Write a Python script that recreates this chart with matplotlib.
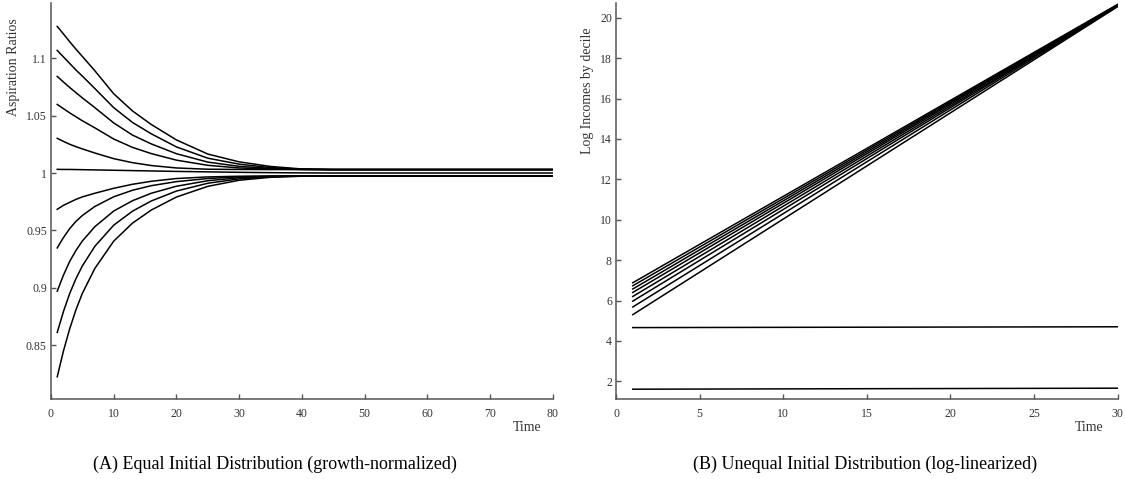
"""Aspiration ratios and log incomes by decile, two-panel figure."""
import matplotlib
matplotlib.use("Agg")
import matplotlib.pyplot as plt
from matplotlib.ticker import FuncFormatter

# panel A: aspiration ratios, sampled periods
t_a = [1, 2, 3, 4, 5, 7, 10, 13, 16, 20, 25, 30, 35, 40, 45, 50, 80]
asp_ratios = [
    [1.1276, 1.1210, 1.1142, 1.1077, 1.1015, 1.0890, 1.0690, 1.0540, 1.0422, 1.0288, 1.0165, 1.0097, 1.0057, 1.0035, 1.0030, 1.0030, 1.0030],
    [1.1067, 1.1010, 1.0953, 1.0896, 1.0844, 1.0735, 1.0569, 1.0440, 1.0341, 1.0227, 1.0129, 1.0077, 1.0047, 1.0033, 1.0030, 1.0030, 1.0030],
    [1.0841, 1.0792, 1.0744, 1.0699, 1.0654, 1.0569, 1.0436, 1.0330, 1.0253, 1.0168, 1.0095, 1.0058, 1.0040, 1.0032, 1.0030, 1.0030, 1.0030],
    [1.0597, 1.0560, 1.0523, 1.0489, 1.0455, 1.0393, 1.0296, 1.0223, 1.0169, 1.0112, 1.0067, 1.0044, 1.0035, 1.0031, 1.0030, 1.0030, 1.0030],
    [1.0302, 1.0275, 1.0250, 1.0229, 1.0210, 1.0174, 1.0125, 1.0090, 1.0065, 1.0044, 1.0033, 1.0031, 1.0030, 1.0030, 1.0030, 1.0030, 1.0030],
    [1.0032, 1.0031, 1.0031, 1.0030, 1.0029, 1.0027, 1.0024, 1.0021, 1.0018, 1.0014, 1.0010, 1.0006, 1.0003, 1.0001, 1.0000, 1.0000, 1.0000],
    [0.9684, 0.9719, 0.9745, 0.9771, 0.9792, 0.9824, 0.9867, 0.9902, 0.9928, 0.9952, 0.9966, 0.9972, 0.9974, 0.9975, 0.9975, 0.9975, 0.9975],
    [0.9348, 0.9439, 0.9517, 0.9580, 0.9630, 0.9709, 0.9793, 0.9850, 0.9890, 0.9925, 0.9952, 0.9967, 0.9972, 0.9974, 0.9975, 0.9975, 0.9975],
    [0.8971, 0.9112, 0.9232, 0.9327, 0.9408, 0.9533, 0.9669, 0.9759, 0.9824, 0.9885, 0.9933, 0.9959, 0.9970, 0.9974, 0.9975, 0.9975, 0.9975],
    [0.8612, 0.8796, 0.8953, 0.9082, 0.9191, 0.9362, 0.9546, 0.9668, 0.9757, 0.9843, 0.9911, 0.9949, 0.9967, 0.9974, 0.9975, 0.9975, 0.9975],
    [0.8226, 0.8453, 0.8646, 0.8812, 0.8952, 0.9170, 0.9407, 0.9564, 0.9678, 0.9791, 0.9884, 0.9937, 0.9963, 0.9972, 0.9975, 0.9975, 0.9975],
]

# panel B: log incomes by decile (straight lines, start and end)
t_b = [1, 30]
log_inc = [
    [1.61, 1.66],
    [4.66, 4.70],
    [5.30, 20.55],
    [5.68, 20.57],
    [5.97, 20.59],
    [6.20, 20.60],
    [6.40, 20.62],
    [6.57, 20.63],
    [6.73, 20.64],
    [6.88, 20.66],
]

plt.rcParams["font.family"] = ["Liberation Serif", "DejaVu Serif"]
fig = plt.figure(figsize=(11.25, 4.79), dpi=100)
axA = fig.add_axes([0.0453, 0.1664, 0.4462, 0.8273])
axB = fig.add_axes([0.5476, 0.1664, 0.4458, 0.8273])

fmt = FuncFormatter(lambda v, p: f"{v:g}")
spine_c = "#555555"

for ax in (axA, axB):
    for s in ("top", "right"):
        ax.spines[s].set_visible(False)
    for s in ("left", "bottom"):
        ax.spines[s].set_color(spine_c)
        ax.spines[s].set_linewidth(1.1)
    ax.tick_params(direction="in", length=3.5, width=1.0, color=spine_c,
                   labelsize=8.5, labelcolor="#333333")
    ax.tick_params(axis="x", pad=6)
    ax.tick_params(axis="y", pad=3)
    ax.yaxis.set_major_formatter(fmt)

for ys in asp_ratios:
    axA.plot(t_a, ys, color="black", lw=1.1)
axA.set_xlim(0, 80)
axA.set_ylim(0.803, 1.148)
axA.set_xticks(range(0, 81, 10))
axA.set_yticks([0.85, 0.9, 0.95, 1.0, 1.05, 1.1])
axA.set_ylabel("Aspiration Ratios", fontsize=10, color="#333333")
axA.yaxis.set_label_coords(-0.061, 0.839)
axA.text(0.977, -0.072, "Time", transform=axA.transAxes, ha="right", va="center",
         fontsize=10, color="#333333")

for ys in log_inc:
    axB.plot(t_b, ys, color="black", lw=1.1)
axB.set_xlim(0, 30)
axB.set_ylim(1.11, 20.73)
axB.set_xticks(range(0, 31, 5))
axB.set_yticks(range(2, 21, 2))
axB.set_ylabel("Log Incomes by decile", fontsize=10, color="#333333")
axB.yaxis.set_label_coords(-0.043, 0.778)
axB.text(0.971, -0.072, "Time", transform=axB.transAxes, ha="right", va="center",
         fontsize=10, color="#333333")

fig.text(0.2444, 0.031, "(A) Equal Initial Distribution (growth-normalized)",
         ha="center", va="center", fontsize=13)
fig.text(0.769, 0.031, "(B) Unequal Initial Distribution (log-linearized)",
         ha="center", va="center", fontsize=13)

fig.savefig("out.png", dpi=100)
